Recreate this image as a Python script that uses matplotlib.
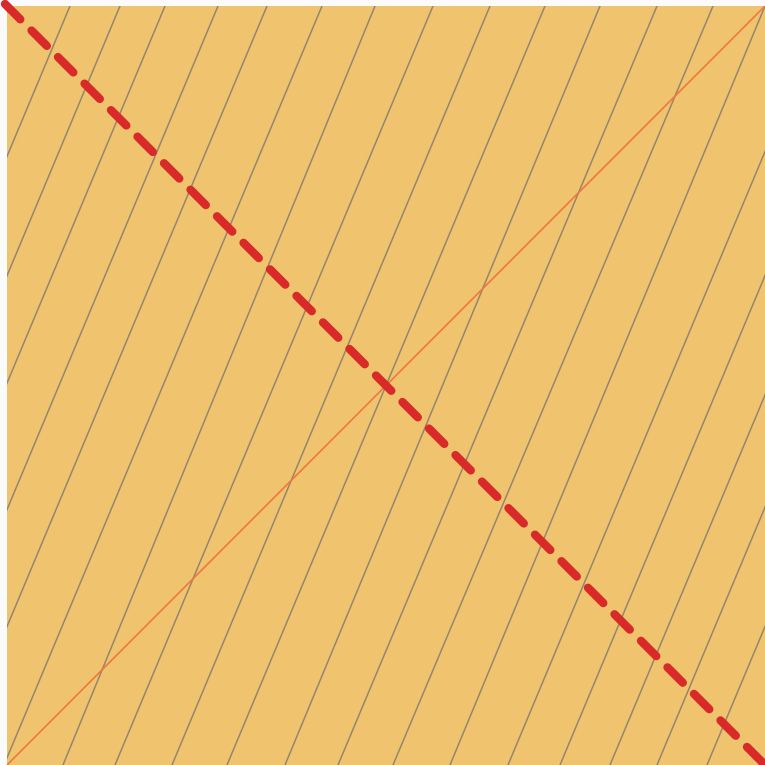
import matplotlib.pyplot as plt

# --- Data (paper coordinates in pixels, y measured from the top edge) ---
PAPER_W = 758
PAPER_H = 759

# grey ruled lines: x where each line meets the top edge and the bottom edge
top_x = [63, 113, 158, 211, 260, 315,
         368, 426, 483, 538, 593, 650, 706,
         758, 819, 871, 921, 968, 1018]
bottom_x = [-255, -205, -160, -107, -58, -3,
            56, 108, 165, 220, 278, 331, 386,
            443, 501, 553, 603, 650, 700]

# the two diagonals (x, y pairs)
red_x = [-2, PAPER_W]
red_y = [-2, PAPER_H]
orange_x = [0, PAPER_W]
orange_y = [PAPER_H, 0]

# --- Figure ---
fig = plt.figure(figsize=(7.65, 7.65), dpi=100)
fig.patch.set_facecolor('#fbfbfb')
ax = fig.add_axes([7 / 765, 0, PAPER_W / 765, PAPER_H / 765])
ax.set_facecolor('#f0c46e')

for t, b in zip(top_x, bottom_x):
    ax.plot([t, b], [0, PAPER_H], color='#8c7f6e', lw=1.1, alpha=0.9)

ax.plot(orange_x, orange_y, color='#f0783c', lw=1.2)

ax.plot(red_x, red_y, color='#d92a2a', lw=6.0,
        linestyle=(0, (2.6, 1.9)), dash_capstyle='round', clip_on=False)

ax.set_xlim(0, PAPER_W)
ax.set_ylim(PAPER_H, 0)
ax.set_xticks([])
ax.set_yticks([])
for s in ax.spines.values():
    s.set_visible(False)

plt.savefig('out.png', dpi=100)
plt.close()
